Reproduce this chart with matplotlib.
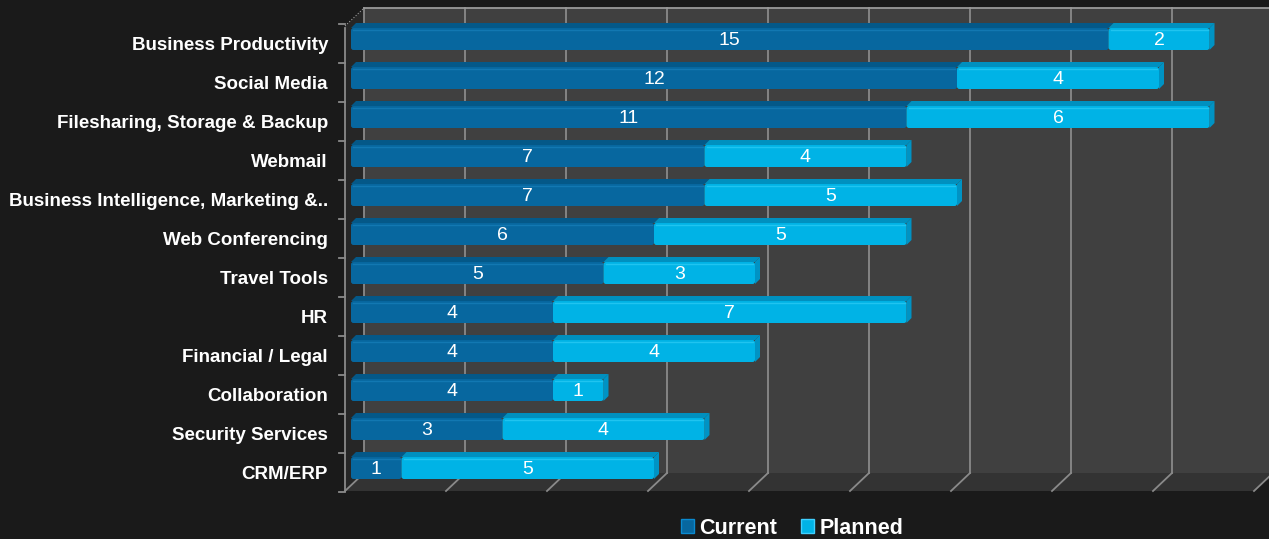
import matplotlib.pyplot as plt
from matplotlib.patches import Polygon, FancyBboxPatch, Patch

categories = ['Business Productivity', 'Social Media', 'Filesharing, Storage & Backup',
              'Webmail', 'Business Intelligence, Marketing &..', 'Web Conferencing',
              'Travel Tools', 'HR', 'Financial / Legal', 'Collaboration',
              'Security Services', 'CRM/ERP']
current = [15, 12, 11, 7, 7, 6, 5, 4, 4, 4, 3, 1]
planned = [2, 4, 6, 4, 5, 5, 3, 7, 4, 1, 4, 5]

BG = '#1a1a1a'
W, H = 1269, 539
fig = plt.figure(figsize=(W / 100, H / 100), dpi=100, facecolor=BG)
plt.rcParams['font.family'] = ['Liberation Sans', 'DejaVu Sans']

# front plane of the 3d box, in pixels
x0p, x1p, y0p, y1p = 345, 1254, 26, 491
ax = fig.add_axes([x0p / W, (H - y1p) / H, (x1p - x0p) / W, (y1p - y0p) / H])
xmax = 18
ymin, ymax = -0.436, 11.487
ax.set_xlim(0, xmax)
ax.set_ylim(ymax, ymin)
ax.axis('off')

pxx = (x1p - x0p) / xmax          # px per x unit
pxy = (y1p - y0p) / (ymax - ymin)  # px per row
def dx(p): return p / pxx
def dy(p): return p / pxy

bx, by = dx(19), dy(18)   # back wall offset
ox, oy = dx(6), dy(4)     # bar face offset
grid_x = list(range(0, xmax + 1, 2))

# back wall, floor, left wall
ax.add_patch(Polygon([(bx, ymin - by), (xmax + bx + 1, ymin - by), (xmax + bx + 1, ymax - by), (bx, ymax - by)],
                     closed=True, fc='#404040', ec='none', zorder=0, clip_on=False))
ax.add_patch(Polygon([(0, ymax), (xmax, ymax), (xmax + bx, ymax - by), (bx, ymax - by)],
                     closed=True, fc='#333333', ec='none', zorder=0, clip_on=False))
ax.add_patch(Polygon([(0, ymin), (bx, ymin - by), (bx, ymax - by), (0, ymax)],
                     closed=True, fc='#262626', ec='none', zorder=0, clip_on=False))
for g in grid_x:
    ax.plot([g + bx, g + bx], [ymax - by, ymin - by], color='#8a8a8a', lw=1.3, zorder=1, clip_on=False)
    ax.plot([g, g + bx], [ymax, ymax - by], color='#8a8a8a', lw=1.3, zorder=1, clip_on=False)
ax.plot([bx, xmax + bx + 1], [ymin - by, ymin - by], color='#9a9a9a', lw=1.3, zorder=1, clip_on=False)
ax.plot([0, bx], [ymin, ymin - by], color='#9a9a9a', lw=0.8, ls=':', zorder=1, clip_on=False)

# y axis line with ticks at row boundaries
ax.plot([0, 0], [ymin + dy(2), ymax], color='#8a8a8a', lw=1.3, zorder=1, clip_on=False)
for i in range(-1, len(categories)):
    ax.plot([-dx(6), 0], [i + 0.5, i + 0.5], color='#8a8a8a', lw=1.3, zorder=1, clip_on=False)

bar_h = dy(22)
dep_x, dep_y = dx(5), dy(5)
styles = [('#07679f', '#05517f', '#045888', '#1278b2'),
          ('#00b3e6', '#0093c4', '#0090bf', '#20c4f0')]

for i, cat in enumerate(categories):
    yc = i - oy
    top = yc - bar_h / 2
    segs = [(0, current[i]), (current[i], current[i] + planned[i])]
    for k, (a, b) in enumerate(segs):
        face, side, topc, hi = styles[k]
        xa, xb = a + ox, b + ox
        # top face
        ax.add_patch(Polygon([(xa, top), (xb, top), (xb + dep_x, top - dep_y), (xa + dep_x, top - dep_y)],
                             closed=True, fc=topc, ec='none', zorder=3, clip_on=False))
        if k == 1 or planned[i] == 0:
            ax.add_patch(Polygon([(xb, top), (xb + dep_x, top - dep_y), (xb + dep_x, top + bar_h - dep_y),
                                  (xb, top + bar_h)], closed=True, fc=side, ec='none', zorder=3, clip_on=False))
        ax.add_patch(FancyBboxPatch((xa, top), xb - xa, bar_h,
                                    boxstyle='round,pad=0,rounding_size=%f' % dx(2.5),
                                    mutation_aspect=pxx / pxy, fc=face, ec='none', zorder=4, clip_on=False))
        ax.plot([xa + dx(2), xb - dx(2)], [top + dy(2), top + dy(2)], color=hi, lw=1.0, zorder=5, clip_on=False)
        ax.text((xa + xb) / 2, yc + dy(1), str(b - a), color='white', fontsize=14,
                ha='center', va='center', zorder=6, clip_on=False)
    ax.text(-dx(17), i + dy(2), cat, color='white', fontsize=13.5, fontweight='bold',
            ha='right', va='center', clip_on=False)

handles = [Patch(fc='#07679f', ec='#0a8ad0', label='Current'),
           Patch(fc='#00b3e6', ec='#40d0ff', label='Planned')]
leg = fig.legend(handles=handles, loc='center', bbox_to_anchor=(792 / W, 1 - 528 / H), ncol=2,
                 frameon=False, handlelength=0.6, handleheight=0.6, handletextpad=0.25,
                 columnspacing=1.1, prop={'weight': 'bold', 'size': 15.5})
for t in leg.get_texts():
    t.set_color('white')

fig.savefig('out.png', dpi=100, facecolor=BG)
